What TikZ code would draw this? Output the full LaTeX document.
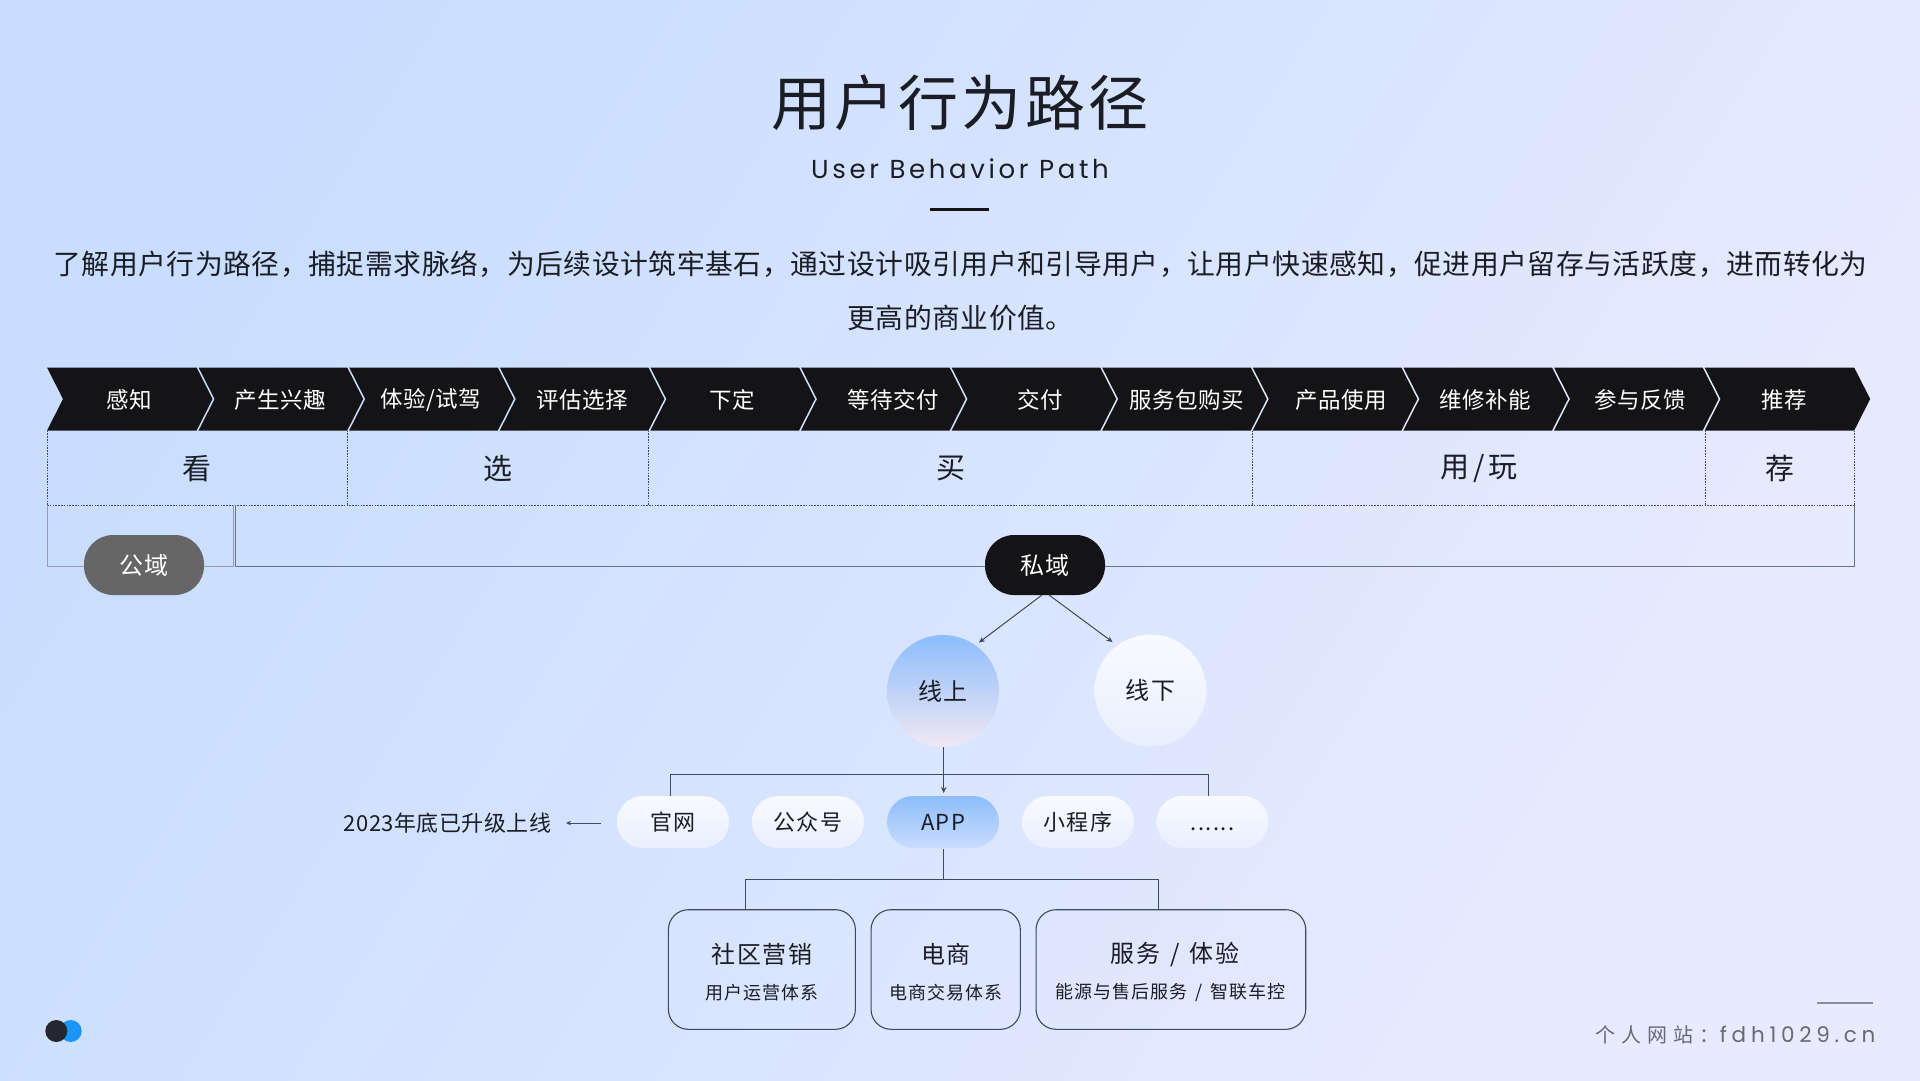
\documentclass[tikz,border=0pt]{standalone}
\usepackage{fontspec}
\usetikzlibrary{arrows.meta,calc}
\setmainfont{Noto Sans CJK SC}
\newfontfamily\cjkA[LetterSpace=2]{Noto Sans CJK SC}
\newfontfamily\cjkB[LetterSpace=6]{Noto Sans CJK SC}
\newfontfamily\cjkC[LetterSpace=12]{Noto Sans CJK SC}
\newfontfamily\cjkD[LetterSpace=30]{Noto Sans CJK SC}
\newfontfamily\latinB[LetterSpace=14]{Poppins}
\newfontfamily\latinD[LetterSpace=22]{Poppins}
\newcommand{\fz}[1]{\fontsize{#1}{#1}\selectfont}
\definecolor{inkblack}{HTML}{141416}
\definecolor{textdark}{HTML}{1A1D24}
\definecolor{linedark}{HTML}{3F4A5C}
\definecolor{linesoft}{HTML}{66748A}
\definecolor{bgA}{HTML}{C8DDFF}
\definecolor{bgB}{HTML}{E8EBFF}
\definecolor{blueA}{HTML}{8CBDFB}
\definecolor{blueB}{HTML}{CADDFD}
\definecolor{pinkB}{HTML}{F0E8F4}
\definecolor{paleA}{HTML}{F8FAFF}
\definecolor{paleB}{HTML}{E8EFFE}
\definecolor{logoblue}{HTML}{1A96FB}
\definecolor{logodark}{HTML}{24272C}
\tikzset{
 x=1pt,y=-1pt,
 txt/.style={inner sep=0pt,outer sep=0pt,text=textdark,align=center},
 chevlabel/.style={txt,text=white,font=\cjkA\fz{22.5}},
 phase/.style={txt,font=\cjkA\fz{29}},
 dotline/.style={draw=linedark,line width=.8pt,dash pattern=on 1.6pt off 1.2pt},
 solidline/.style={draw=linesoft,line width=1pt},
 conn/.style={draw=linedark,line width=1pt},
 arr/.style={conn,-{Stealth[length=6pt,width=5.5pt]}},
 pill/.style={txt,minimum width=112pt,minimum height=52pt,rounded corners=26pt,font=\cjkB\fz{22}},
 palefill/.style={top color=paleA,bottom color=paleB},
 bigpill/.style={txt,minimum width=120pt,minimum height=60pt,rounded corners=29pt,text=white,font=\cjkB\fz{24}},
 ball/.style={txt,circle,minimum size=112pt,font=\cjkB\fz{24}},
 card/.style={draw=linedark,line width=1.1pt,rounded corners=20pt},
 cardtitle/.style={txt,font=\cjkB\fz{24}},
 cardsub/.style={txt,font=\cjkB\fz{18}},
}
\begin{document}
\begin{tikzpicture}
\useasboundingbox (0,0) rectangle (1920,1080);
\shade[left color=bgA,right color=bgB,shading angle=58] (0,0) rectangle (1920,1080);

% header
\node[txt,font=\cjkB\fz{60}] (title) at (960,103) {用户行为路径};
\node[txt,font=\latinB\fz{26}] (subtitle) at (960,169) {User Behavior Path};
\fill[inkblack] (930,207.5) rectangle (989,210.5);
\node[txt,font=\cjkA\fz{27.8}] (para1) at (960.5,264.5) {了解用户行为路径，捕捉需求脉络，为后续设计筑牢基石，通过设计吸引用户和引导用户，让用户快速感知，促进用户留存与活跃度，进而转化为};
\node[txt,font=\cjkA\fz{27.8}] (para2) at (960.5,318) {更高的商业价值。};

% chevrons
\foreach \i in {0,...,11}{
  \pgfmathsetmacro{\xa}{47+150.6*\i+(\i>0?1:0)}
  \pgfmathsetmacro{\xb}{47+150.6*(\i+1)-(\i<11?1:0)}
  \fill[inkblack] (\xa,367.5) -- (\xb,367.5) -- (\xb+16,399) -- (\xb,430.5) -- (\xa,430.5) -- (\xa+16,399) -- cycle;
}
\foreach \n/\cx/\lab in {c1/129.4/{感知},c2/280.5/{产生兴趣},c3/430.5/{体验/试驾},c4/582.2/{评估选择},c5/732.5/{下定},c6/893.5/{等待交付},c7/1040.2/{交付},c8/1186.8/{服务包购买},c9/1341.5/{产品使用},c10/1485.5/{维修补能},c11/1640/{参与反馈},c12/1784/{推荐}}{
  \node[chevlabel] (\n) at (\cx,399.8) {\lab};
}

% phase row
\foreach \vx in {47,347,648,1252.5,1705,1854}{
  \draw[dotline] (\vx,430.5) -- (\vx,505);
}
\draw[dotline] (47,505) -- (1854,505);
\node[phase] (kan) at (196.5,468.3) {看};
\node[phase] (xuan) at (497.5,468.3) {选};
\node[phase] (mai) at (950.5,468.3) {买};
\node[phase,font=\cjkC\fz{29}] (yong) at (1479,468.3) {用/玩};
\node[phase] (jian) at (1779.5,468.3) {荐};

% domain brackets
\draw[solidline,draw=linesoft!70] (47,505) -- (47,566) -- (233.5,566) -- (233.5,505);
\draw[solidline] (235.5,505) -- (235.5,566) -- (1854,566) -- (1854,505);
\node[bigpill,fill=black!60] (gongyu) at (144,565) {公域};
\node[bigpill,fill=inkblack] (siyu) at (1045,565) {\raisebox{-.5pt}{私域}};

% online / offline
\node[ball,shade,shading angle=172,top color=blueA,bottom color=pinkB] (online) at (943,691) {线上};
\node[ball,shade,palefill] (offline) at (1150.5,690.5) {线下};
\draw[arr] ($(siyu.south)+(-3,0)$) -- ($(online.north)+(36,7.5)$);
\draw[arr] ($(siyu.south)+(4,0)$) -- ($(offline.north)+(-38,7.5)$);

% channels
\node[pill,shade,palefill] (web) at (673,822) {官网};
\node[pill,shade,palefill] (wx) at (808,822) {公众号};
\node[pill,shade,top color=blueA,bottom color=blueB] (app) at (943,822) {APP};
\node[pill,shade,palefill] (mini) at (1078,822) {小程序};
\node[pill,shade,palefill] (more) at (1212.5,822) {\vphantom{官}......};
\coordinate (bl) at ($(web.north)+(-2.5,0)$);
\coordinate (br) at ($(more.north)+(-4.2,0)$);
\draw[conn] (bl) -- ++(0,-21.5) -| (br);
\draw[arr] ($(online.south)+(.7,0)$) -- ($(app.north)+(.7,-3)$);
\node[txt,font=\cjkA\fz{22},anchor=east] (note) at (551,823.5) {2023年底已升级上线};
\draw[conn,line width=.8pt,-{Stealth[length=5pt,width=4.5pt]}] ($(web.west)+(-16.5,1)$) -- ($(note.east)+(15,-.5)$);

% cards
\node[card,txt,minimum width=187pt,minimum height=119.6pt] (ca) at (761.9,969.5) {};
\node[card,txt,minimum width=149.3pt,minimum height=119.6pt] (cb) at (945.7,969.5) {};
\node[card,txt,minimum width=269.7pt,minimum height=119.6pt] (cc) at (1170.9,969.5) {};
\node[cardtitle] (cat) at (762,954) {社区营销};
\node[cardsub] (cas) at (762,992.5) {用户运营体系};
\node[cardtitle] (cbt) at (946,954) {电商};
\node[cardsub] (cbs) at (946,992.5) {电商交易体系};
\node[cardtitle] (cct) at (1175,954) {服务\hspace{10pt}/\hspace{10pt}体验};
\node[cardsub] (ccs) at (1170.5,992.5) {能源与售后服务\hspace{8pt}/\hspace{8pt}智联车控};
\draw[conn] ($(app.south)+(.3,1)$) -- ($(app.south)+(.3,31.5)$);
\draw[conn] ($(ca.north)+(-16.3,0)$) -- ++(0,-30.5) -| ($(cc.north)+(-12.6,0)$);

% footer
\fill[logoblue] (70.7,1031) circle (11);
\fill[logodark] (56.3,1031) circle (11);
\draw[draw=black!40!bgB,line width=1.1pt] (1817.3,1003) -- (1872.7,1003);
\node[txt,text=black!55!bgB,font=\cjkD\fz{20},anchor=east] (site) at (1875.5,1035) {个人网站：{\latinD\fz{21.5}fdh1029.cn}};
\end{tikzpicture}
\end{document}
